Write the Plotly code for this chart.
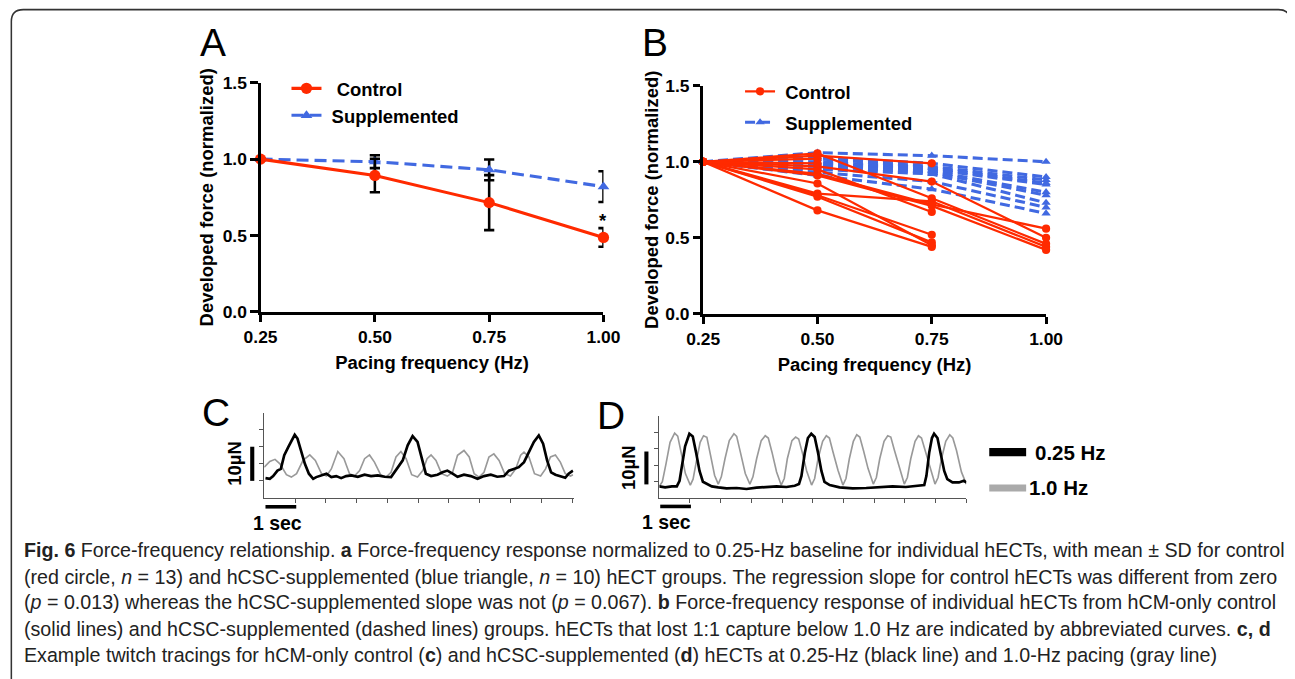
import plotly.graph_objects as go

# The photographed page shows figure pixel p at 0.977*p + 22.7 (x) and 0.975*q + 16.9 (y).
# All positions below are given in reference-picture pixels and converted to paper fractions.
SX, SY = 0.977, 0.975
OXo, OYo = 22.7, 16.9
FW, FH = 1304, 680
K = 1 / 0.976  # size compensation

# ---------------- data ----------------
freq = [0.25, 0.50, 0.75, 1.00]
freq_labels = ["0.25", "0.50", "0.75", "1.00"]
force_ticks = [0.0, 0.5, 1.0, 1.5]
force_labels = ["0.0", "0.5", "1.0", "1.5"]

# Panel A: mean +/- SD
ctrl_mean = [1.00, 0.893, 0.715, 0.487]
ctrl_sd = [None, 0.11, 0.18, 0.061]
supp_mean = [1.00, 0.983, 0.930, 0.820]
supp_sd = [None, 0.042, 0.068, 0.101]

# Panel B: individual hECTs (abbreviated curves lost 1:1 capture)
ctrl_curves = [
    [1.00, 1.04, 0.99],
    [1.00, 1.055, 0.76, 0.46],
    [1.00, 0.97, 0.87, 0.50],
    [1.00, 0.79, 0.74, 0.44],
    [1.00, 0.92, 0.72, 0.56],
    [1.00, 0.91, 0.71, 0.42],
    [1.00, 0.95, 0.67],
    [1.00, 0.857, 0.45],
    [1.00, 0.78, 0.52],
    [1.00, 0.77, 0.47],
    [1.00, 0.68, 0.44],
    [1.00, 1.02],
    [1.00, 0.99],
]
supp_curves = [
    [1.00, 1.06, 1.04, 1.00],
    [1.00, 1.03, 0.99, 0.90],
    [1.00, 1.02, 0.97, 0.88],
    [1.00, 1.00, 0.96, 0.86],
    [1.00, 0.99, 0.95, 0.85],
    [1.00, 0.98, 0.94, 0.80],
    [1.00, 0.97, 0.93, 0.78],
    [1.00, 0.95, 0.92, 0.73],
    [1.00, 0.93, 0.87, 0.70],
    [1.00, 0.91, 0.82, 0.66],
]

# Panel C: control twitch traces (time s, force uN)
c_slow_t = [0.04, 0.18, 0.29, 0.43, 0.54, 0.65, 0.78, 0.91, 0.99, 1.08, 1.19, 1.32, 1.45, 1.59, 1.69,
            1.86, 2.02, 2.18, 2.34, 2.50, 2.66, 2.83, 3.04, 3.26, 3.47, 3.69, 3.91, 4.12, 4.23, 4.34,
            4.50, 4.66, 4.82, 4.98, 5.11, 5.25, 5.42, 5.63, 5.79, 5.95, 6.12, 6.28, 6.49, 6.71, 6.93,
            7.14, 7.36, 7.57, 7.79, 7.95, 8.11, 8.27, 8.44, 8.60, 8.76, 8.92, 9.06, 9.19, 9.32, 9.46,
            9.62, 9.78, 9.89, 10.03]
c_slow_f = [5.8, 5.6, 6.4, 8.0, 8.5, 12.5, 14.9, 17.4, 18.5, 17.4, 13.9, 10.0, 7.1, 5.6, 6.1,
            6.6, 7.1, 6.1, 6.4, 5.8, 6.4, 6.6, 6.2, 6.8, 6.4, 6.6, 6.2, 6.1, 7.5, 9.0,
            11.0, 15.4, 18.1, 16.4, 11.5, 7.1, 6.4, 6.8, 7.5, 8.0, 7.1, 6.2, 6.8, 6.4, 5.6,
            6.4, 6.8, 6.2, 6.4, 8.0, 8.5, 9.0, 10.5, 13.4, 16.4, 18.3, 15.9, 11.0, 7.5, 6.8,
            6.4, 5.9, 7.1, 8.0]
c_fast_t = [0.00, 0.18, 0.35, 0.51, 0.72, 0.88, 1.05, 1.26, 1.48, 1.66, 1.86, 2.02, 2.18, 2.39, 2.59,
            2.77, 2.93, 3.10, 3.26, 3.42, 3.58, 3.78, 3.96, 4.12, 4.28, 4.44, 4.61, 4.79, 4.98, 5.15,
            5.29, 5.42, 5.58, 5.76, 5.95, 6.12, 6.28, 6.49, 6.66, 6.82, 6.98, 7.14, 7.30, 7.46, 7.63,
            7.81, 8.00, 8.17, 8.33, 8.44, 8.60, 8.78, 8.98, 9.14, 9.30, 9.46, 9.62, 9.78, 9.95, 10.03]
c_fast_f = [9.0, 10.7, 11.3, 10.0, 6.8, 6.1, 7.1, 11.0, 12.6, 11.0, 7.1, 6.4, 8.5, 13.6, 11.5,
            7.1, 6.4, 8.0, 11.5, 12.6, 10.5, 6.8, 6.1, 7.5, 12.0, 13.6, 11.5, 6.8, 6.1, 8.0,
            11.5, 12.6, 11.0, 7.1, 6.4, 7.5, 12.5, 13.9, 12.0, 7.1, 6.1, 7.5, 12.0, 12.9, 11.0,
            7.1, 6.4, 8.5, 12.5, 13.4, 12.0, 7.1, 6.4, 8.5, 12.0, 12.6, 10.5, 7.1, 6.4, 6.8]

# Panel D: supplemented twitch traces
d_slow_t = [0.00, 0.19, 0.41, 0.57, 0.66, 0.74, 0.84, 0.98, 1.09, 1.20, 1.31, 1.42, 1.55, 1.71, 1.92,
            2.19, 2.52, 2.84, 3.17, 3.49, 3.82, 4.14, 4.41, 4.55, 4.63, 4.74, 4.84, 4.95, 5.06, 5.17,
            5.28, 5.38, 5.55, 5.87, 6.30, 6.74, 7.17, 7.60, 8.03, 8.46, 8.63, 8.70, 8.79, 8.88, 8.95,
            9.06, 9.17, 9.28, 9.38, 9.55, 9.76, 9.92, 10.00]
d_slow_f = [3.6, 3.3, 3.6, 3.6, 5.3, 9.8, 15.8, 19.6, 18.8, 13.8, 8.3, 5.0, 4.3, 3.6, 3.3,
            3.0, 3.1, 2.8, 3.2, 3.3, 3.6, 3.4, 3.8, 4.3, 6.8, 13.8, 18.3, 19.6, 18.6, 13.8,
            8.3, 5.0, 4.0, 3.3, 3.0, 3.1, 3.3, 3.6, 3.4, 3.8, 4.0, 6.8, 13.8, 18.3, 19.6,
            18.3, 13.8, 8.3, 5.8, 4.8, 4.8, 5.3, 4.8]
d_fast_t = [0.00, 0.10, 0.22, 0.35, 0.50, 0.60, 0.72, 0.85, 1.01, 1.10, 1.22, 1.33, 1.44, 1.55, 1.67,
            1.80, 1.92, 2.02, 2.14, 2.28, 2.43, 2.52, 2.64, 2.80, 2.95, 3.05, 3.17, 3.32, 3.45, 3.55,
            3.67, 3.82, 3.97, 4.07, 4.17, 4.32, 4.44, 4.54, 4.66, 4.80, 4.96, 5.06, 5.17, 5.32, 5.44,
            5.54, 5.66, 5.82, 5.98, 6.08, 6.19, 6.32, 6.43, 6.53, 6.65, 6.80, 6.97, 7.07, 7.18, 7.32,
            7.44, 7.54, 7.66, 7.82, 7.98, 8.08, 8.19, 8.33, 8.44, 8.54, 8.66, 8.82, 8.98, 9.08, 9.19,
            9.33, 9.46, 9.56, 9.68, 9.84, 10.00]
d_fast_f = [3.6, 5.0, 10.5, 17.0, 19.8, 18.9, 13.5, 7.5, 4.0, 5.8, 11.8, 17.0, 19.0, 18.5, 13.0,
            7.0, 4.3, 6.5, 12.0, 17.5, 19.6, 18.8, 14.0, 7.5, 4.3, 6.5, 12.0, 17.5, 19.0, 18.3,
            14.0, 8.0, 4.0, 6.0, 12.0, 17.5, 18.6, 18.0, 13.8, 8.3, 4.0, 6.0, 12.0, 17.3, 19.0,
            18.3, 14.0, 8.5, 4.0, 6.0, 12.0, 17.3, 19.3, 18.6, 14.5, 9.0, 4.3, 6.3, 12.0, 17.3,
            19.0, 18.6, 14.5, 9.0, 4.3, 6.3, 12.0, 17.3, 19.0, 18.3, 14.5, 9.0, 4.3, 6.3, 12.0,
            17.3, 19.3, 18.3, 14.5, 8.0, 4.3]

trace_time_ticks = [1, 2, 3, 4, 5, 6, 7, 8, 9, 10]
trace_force_ticks = [5, 10, 15, 20]
scale_time = 1.0      # s
scale_force = 10.0    # uN

# ---------------- styling ----------------
RED = "#ff2a00"
BLUE = "#4169e1"
FONT = "Liberation Sans, Arial, sans-serif"


def fx(px):
    return ((px - OXo) / SX) / FW


def fy(py):
    return 1 - ((py - OYo) / SY) / FH


def hdom(p0, p1):
    return [fx(p0), fx(p1)]


def vdom(top_px, bottom_px):
    return [fy(bottom_px), fy(top_px)]


xA = hdom(259, 603); yA = vdom(82, 312)
xB = hdom(703, 1047); yB = vdom(85, 314)
xC = hdom(262.7, 573); yC = vdom(413.3, 499)
xD = hdom(659, 967); yD = vdom(416.7, 499.3)
rngC = [0, 10.05]; rngD = [0, 10.0]; rngF = [0, 25]

fig = go.Figure()

# Panel A
fig.add_trace(go.Scatter(
    x=freq, y=supp_mean, mode="lines+markers", name=" Supplemented",
    line=dict(color=BLUE, width=3 * K, dash="12px,6px"),
    marker=dict(symbol="triangle-up", size=10 * K, color=BLUE),
    error_y=dict(type="data", array=supp_sd, color="black", thickness=2.5 * K, width=5 * K),
    cliponaxis=False, xaxis="x", yaxis="y", legend="legend", legendgroup="as", legendrank=2))
fig.add_trace(go.Scatter(
    x=freq, y=ctrl_mean, mode="lines+markers", name="  Control",
    line=dict(color=RED, width=3 * K),
    marker=dict(symbol="circle", size=11 * K, color=RED),
    error_y=dict(type="data", array=ctrl_sd, color="black", thickness=2.5 * K, width=5 * K),
    cliponaxis=False, xaxis="x", yaxis="y", legend="legend", legendgroup="ac", legendrank=1))

# Panel B
for i, c in enumerate(supp_curves):
    fig.add_trace(go.Scatter(
        x=freq[:len(c)], y=c, mode="lines+markers", name=" Supplemented",
        line=dict(color=BLUE, width=3 * K, dash="10px,5px"),
        marker=dict(symbol="triangle-up", size=8 * K, color=BLUE),
        cliponaxis=False, xaxis="x2", yaxis="y2", legend="legend2",
        legendgroup="bs", showlegend=(i == 0), legendrank=2))
for i, c in enumerate(ctrl_curves):
    fig.add_trace(go.Scatter(
        x=freq[:len(c)], y=c, mode="lines+markers", name=" Control",
        line=dict(color=RED, width=2.2 * K),
        marker=dict(symbol="circle", size=8 * K, color=RED),
        cliponaxis=False, xaxis="x2", yaxis="y2", legend="legend2",
        legendgroup="bc", showlegend=(i == 0), legendrank=1))

# Panels C and D
fig.add_trace(go.Scatter(x=c_fast_t, y=c_fast_f, mode="lines", line=dict(color="#999999", width=1.6 * K),
                         xaxis="x3", yaxis="y3", showlegend=False))
fig.add_trace(go.Scatter(x=c_slow_t, y=c_slow_f, mode="lines", line=dict(color="black", width=2.6 * K),
                         xaxis="x3", yaxis="y3", showlegend=False))
fig.add_trace(go.Scatter(x=d_fast_t, y=d_fast_f, mode="lines", line=dict(color="#999999", width=1.6 * K),
                         xaxis="x4", yaxis="y4", showlegend=False))
fig.add_trace(go.Scatter(x=d_slow_t, y=d_slow_f, mode="lines", line=dict(color="black", width=2.6 * K),
                         xaxis="x4", yaxis="y4", showlegend=False))

tickfont = dict(family=FONT, size=17 * K, color="black", weight="bold")
titlefont = dict(family=FONT, size=18 * K, color="black", weight="bold")


def main_x(domain, anchor):
    return dict(domain=domain, anchor=anchor, range=[0.25, 1.0], tickvals=freq, ticktext=freq_labels,
                showline=True, linewidth=3 * K, linecolor="black", ticks="outside", ticklen=7 * K,
                tickwidth=3 * K, tickcolor="black", showgrid=False, zeroline=False, tickfont=tickfont,
                title=dict(text="Pacing frequency (Hz)", font=titlefont, standoff=10 * K))


def main_y(domain, anchor, standoff):
    return dict(domain=domain, anchor=anchor, range=[0, 1.5], tickvals=force_ticks, ticktext=force_labels,
                showline=True, linewidth=3 * K, linecolor="black", ticks="outside", ticklen=7 * K,
                tickwidth=3 * K, tickcolor="black", showgrid=False, zeroline=False, tickfont=tickfont,
                title=dict(text="Developed force (normalized)", font=titlefont, standoff=standoff))


def trace_x(domain, anchor, rng):
    return dict(domain=domain, anchor=anchor, range=rng, tickvals=trace_time_ticks, showticklabels=False,
                showline=True, linewidth=1.2 * K, linecolor="#555555", ticks="outside", ticklen=4 * K,
                tickwidth=1, tickcolor="#555555", showgrid=False, zeroline=False)


def trace_y(domain, anchor):
    return dict(domain=domain, anchor=anchor, range=rngF, tickvals=trace_force_ticks, showticklabels=False,
                showline=True, linewidth=1.2 * K, linecolor="#555555", ticks="outside", ticklen=4 * K,
                tickwidth=1, tickcolor="#555555", showgrid=False, zeroline=False)


legfont = dict(family=FONT, size=18 * K, color="black", weight="bold")

fig.update_layout(
    width=FW, height=FH, autosize=False, margin=dict(l=0, r=0, t=0, b=0),
    paper_bgcolor="white", plot_bgcolor="rgba(0,0,0,0)",
    xaxis=main_x(xA, "y"), yaxis=main_y(yA, "x", 5),
    xaxis2=main_x(xB, "y2"), yaxis2=main_y(yB, "x2", 2),
    xaxis3=trace_x(xC, "y3", rngC), yaxis3=trace_y(yC, "x3"),
    xaxis4=trace_x(xD, "y4", rngD), yaxis4=trace_y(yD, "x4"),
    legend=dict(x=fx(285), y=fy(69), xanchor="left", yanchor="top", font=legfont,
                bgcolor="rgba(0,0,0,0)", tracegroupgap=0, itemwidth=30),
    legend2=dict(x=fx(740), y=fy(72), xanchor="left", yanchor="top", font=legfont,
                 bgcolor="rgba(0,0,0,0)", tracegroupgap=4, itemwidth=30),
)

shapes = []
annotations = []

# Figure border (rounded rectangle)
L, T, R, B = fx(9), fy(8.5), fx(1292), fy(700)
rx, ry = 12 / (SX * FW), 12 / (SY * FH)
path = (f"M {L+rx},{T} L {R-rx},{T} Q {R},{T} {R},{T-ry} L {R},{B+ry} Q {R},{B} {R-rx},{B} "
        f"L {L+rx},{B} Q {L},{B} {L},{B+ry} L {L},{T-ry} Q {L},{T} {L+rx},{T} Z")
shapes.append(dict(type="path", path=path, xref="paper", yref="paper",
                   line=dict(color="#333333", width=1.5 * K), fillcolor="rgba(0,0,0,0)"))

# Panel letters
for lab, px, py in [("A", 211, 42), ("B", 655, 42), ("C", 214, 413), ("D", 611, 416)]:
    annotations.append(dict(text=lab, x=fx(px), y=fy(py), xref="paper", yref="paper",
                            showarrow=False, xanchor="center", yanchor="middle",
                            font=dict(family=FONT, size=38 * K, color="black")))

# significance star
annotations.append(dict(text="*", x=1.0, y=0.60, xref="x", yref="y", showarrow=False,
                        font=dict(family=FONT, size=18 * K, color="black", weight="bold")))


def ax_pos(domain, rng, v):
    return domain[0] + (v - rng[0]) / (rng[1] - rng[0]) * (domain[1] - domain[0])


# Scale bars for C and D
for xd, yd, rng, bar_t, bar_f0, hor_f, t0, txt_t in [(xC, yC, rngC, -0.39, 5.0, -2.6, 0.04, 0.43),
                                                     (xD, yD, rngD, -0.42, 4.2, -2.5, 0.03, 0.25)]:
    xv = ax_pos(xd, rng, bar_t)
    shapes.append(dict(type="line", xref="paper", yref="paper", x0=xv, x1=xv,
                       y0=ax_pos(yd, rngF, bar_f0), y1=ax_pos(yd, rngF, bar_f0 + scale_force),
                       line=dict(color="black", width=4 * K)))
    yh = ax_pos(yd, rngF, hor_f)
    shapes.append(dict(type="line", xref="paper", yref="paper", x0=ax_pos(xd, rng, t0),
                       x1=ax_pos(xd, rng, t0 + scale_time), y0=yh, y1=yh,
                       line=dict(color="black", width=3.5 * K)))
    annotations.append(dict(text="1 sec", x=ax_pos(xd, rng, txt_t), y=yh - 3 / FH, xref="paper",
                            yref="paper", showarrow=False, xanchor="center", yanchor="top",
                            font=dict(family=FONT, size=19 * K, color="black", weight="bold")))
    annotations.append(dict(text="10\u00b5N", x=xv - 5 / FW, y=ax_pos(yd, rngF, bar_f0 + scale_force / 2),
                            xref="paper", yref="paper", showarrow=False, xanchor="right",
                            yanchor="middle", textangle=-90,
                            font=dict(family=FONT, size=18 * K, color="black", weight="bold")))

# Legend for C/D traces
for lab, col, wid, ypx, txt_x in [("0.25 Hz", "black", 8, 453, 1034), ("1.0 Hz", "#aaaaaa", 7, 489, 1028)]:
    shapes.append(dict(type="line", xref="paper", yref="paper", x0=fx(990), x1=fx(1027),
                       y0=fy(ypx), y1=fy(ypx), line=dict(color=col, width=wid * K)))
    annotations.append(dict(text=lab, x=fx(txt_x), y=fy(ypx), xref="paper", yref="paper",
                            showarrow=False, xanchor="left", yanchor="middle",
                            font=dict(family=FONT, size=20 * K, color="black", weight="bold")))

# Caption
caption_lines = [
    "<b>Fig. 6</b> Force-frequency relationship. <b>a</b> Force-frequency response normalized to 0.25-Hz baseline for individual hECTs, with mean ± SD for control",
    "(red circle, <i>n</i> = 13) and hCSC-supplemented (blue triangle, <i>n</i> = 10) hECT groups. The regression slope for control hECTs was different from zero",
    "(<i>p</i> = 0.013) whereas the hCSC-supplemented slope was not (<i>p</i> = 0.067). <b>b</b> Force-frequency response of individual hECTs from hCM-only control",
    "(solid lines) and hCSC-supplemented (dashed lines) groups. hECTs that lost 1:1 capture below 1.0 Hz are indicated by abbreviated curves. <b>c, d</b>",
    "Example twitch tracings for hCM-only control (<b>c</b>) and hCSC-supplemented (<b>d</b>) hECTs at 0.25-Hz (black line) and 1.0-Hz pacing (gray line)",
]
caption_y = [551, 578, 604, 631, 657]
for txt, ypx in zip(caption_lines, caption_y):
    annotations.append(dict(text=txt, x=fx(19.5), y=fy(ypx), xref="paper", yref="paper",
                            showarrow=False, xanchor="left", yanchor="middle",
                            font=dict(family=FONT, size=19.2 * K, color="#222222")))

fig.update_layout(shapes=shapes, annotations=annotations)
fig.write_html("out.html")
